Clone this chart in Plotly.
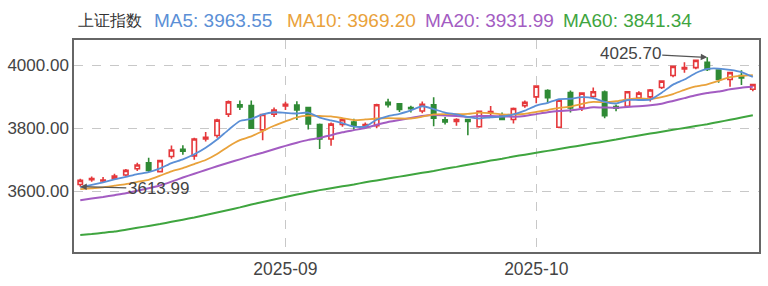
import plotly.graph_objects as go

dates = [
    "2025-08-06", "2025-08-07", "2025-08-08", "2025-08-11", "2025-08-12", "2025-08-13",
    "2025-08-14", "2025-08-15", "2025-08-18", "2025-08-19", "2025-08-20", "2025-08-21",
    "2025-08-22", "2025-08-25", "2025-08-26", "2025-08-27", "2025-08-28", "2025-08-29",
    "2025-09-01", "2025-09-02", "2025-09-03", "2025-09-04", "2025-09-05", "2025-09-08",
    "2025-09-09", "2025-09-10", "2025-09-11", "2025-09-12", "2025-09-15", "2025-09-16",
    "2025-09-17", "2025-09-18", "2025-09-19", "2025-09-22", "2025-09-23", "2025-09-24",
    "2025-09-25", "2025-09-26", "2025-09-29", "2025-09-30", "2025-10-09", "2025-10-10",
    "2025-10-13", "2025-10-14", "2025-10-15", "2025-10-16", "2025-10-17", "2025-10-20",
    "2025-10-21", "2025-10-22", "2025-10-23", "2025-10-24", "2025-10-27", "2025-10-28",
    "2025-10-29", "2025-10-30", "2025-10-31", "2025-11-03", "2025-11-04", "2025-11-05",
]

open_ = [3621, 3636, 3632, 3640, 3651, 3671, 3690, 3662, 3710, 3733,
         3712, 3766, 3777, 3845, 3875, 3872, 3795, 3845, 3871, 3874,
         3866, 3812, 3766, 3812, 3820, 3803, 3808, 3883, 3878, 3866,
         3855, 3875, 3827, 3822, 3828, 3805, 3849, 3839, 3828, 3872,
         3900, 3920, 3803, 3914, 3866, 3901, 3915, 3869, 3870, 3896,
         3900, 3930, 3968, 3989, 3993, 4010, 3985, 3955, 3968, 3924]
high = [3639, 3646, 3645, 3655, 3670, 3690, 3706, 3700, 3745, 3746,
        3770, 3788, 3830, 3888, 3888, 3888, 3846, 3866, 3884, 3886,
        3868, 3815, 3818, 3830, 3830, 3818, 3878, 3894, 3880, 3872,
        3885, 3899, 3836, 3832, 3830, 3856, 3871, 3850, 3866, 3888,
        3936, 3924, 3892, 3920, 3915, 3930, 3920, 3876, 3918, 3918,
        3925, 3953, 3999, 4010, 4017, 4025.70, 3987, 3979, 3985, 3942]
low = [3613.99, 3630, 3626, 3637, 3648, 3664, 3660, 3659, 3703, 3716,
       3700, 3758, 3770, 3836, 3858, 3798, 3762, 3836, 3858, 3826,
       3796, 3734, 3744, 3805, 3795, 3798, 3800, 3866, 3852, 3850,
       3848, 3806, 3812, 3808, 3778, 3802, 3842, 3826, 3815, 3865,
       3880, 3880, 3800, 3850, 3855, 3895, 3832, 3854, 3866, 3890,
       3885, 3925, 3962, 3977, 3988, 3982, 3945, 3932, 3938, 3918]
close = [3634, 3640, 3635, 3648, 3666, 3683, 3666, 3697, 3731, 3727,
         3766, 3771, 3826, 3884, 3868, 3800, 3844, 3858, 3876, 3858,
         3814, 3766, 3813, 3827, 3807, 3812, 3875, 3875, 3860, 3862,
         3876, 3832, 3820, 3828, 3822, 3854, 3853, 3828, 3863, 3883,
         3934, 3897, 3889, 3865, 3912, 3916, 3840, 3864, 3916, 3912,
         3922, 3950, 3997, 3993, 4016, 3987, 3955, 3977, 3960, 3939]

ma5 = [3612, 3620, 3628, 3637, 3645, 3654, 3660, 3672, 3689, 3701,
       3717, 3738, 3764, 3795, 3823, 3830, 3844, 3851, 3849, 3847,
       3850, 3834, 3825, 3816, 3805, 3805, 3827, 3839, 3846, 3857,
       3870, 3861, 3850, 3844, 3836, 3831, 3835, 3837, 3844, 3856,
       3872, 3881, 3893, 3894, 3899, 3896, 3884, 3879, 3890, 3890,
       3891, 3913, 3939, 3955, 3976, 3989, 3990, 3986, 3979, 3963.55]
ma10 = [3606, 3609, 3612, 3617, 3622, 3629, 3636, 3649, 3663, 3673,
        3686, 3699, 3718, 3742, 3762, 3774, 3791, 3808, 3822, 3835,
        3840, 3839, 3838, 3832, 3826, 3828, 3831, 3832, 3831, 3831,
        3837, 3844, 3845, 3845, 3846, 3850, 3848, 3844, 3844, 3846,
        3852, 3858, 3865, 3869, 3878, 3884, 3883, 3886, 3892, 3895,
        3893, 3899, 3909, 3922, 3933, 3940, 3951, 3963, 3967, 3969.20]
ma20 = [3571, 3576, 3581, 3587, 3593, 3601, 3609, 3618, 3630, 3643,
        3655, 3667, 3679, 3690, 3701, 3712, 3722, 3733, 3744, 3754,
        3763, 3769, 3778, 3787, 3794, 3801, 3811, 3820, 3826, 3833,
        3839, 3842, 3841, 3839, 3836, 3839, 3839, 3838, 3837, 3839,
        3845, 3851, 3855, 3857, 3862, 3867, 3866, 3865, 3868, 3870,
        3873, 3878, 3887, 3896, 3905, 3912, 3917, 3924, 3929, 3931.99]
ma60 = [3460, 3463, 3467, 3471, 3477, 3483, 3489, 3495, 3502, 3509,
        3516, 3524, 3532, 3540, 3548, 3557, 3565, 3573, 3581, 3589,
        3596, 3603, 3609, 3615, 3621, 3628, 3634, 3640, 3646, 3652,
        3658, 3664, 3671, 3677, 3684, 3690, 3697, 3703, 3710, 3716,
        3722, 3728, 3734, 3740, 3746, 3752, 3758, 3764, 3771, 3777,
        3783, 3789, 3795, 3801, 3807, 3813, 3820, 3827, 3834, 3841.34]

index_name = "上证指数"
x_tick_dates = ["2025-09-01", "2025-10-09"]
x_tick_text = ["2025-09", "2025-10"]
y_ticks = [3600, 3800, 4000]

C_UP = "#e5383b"
C_DOWN = "#2f8a35"
C_MA5 = "#5b8fd6"
C_MA10 = "#e9a23b"
C_MA20 = "#a35cc2"
C_MA60 = "#3fa53f"
FONT = "Arial, Liberation Sans, sans-serif"

fig = go.Figure()
fig.add_trace(go.Candlestick(
    x=dates, open=open_, high=high, low=low, close=close,
    increasing=dict(line=dict(color=C_UP, width=1.6), fillcolor="white"),
    decreasing=dict(line=dict(color=C_DOWN, width=1.6), fillcolor=C_DOWN),
    whiskerwidth=0, showlegend=False, hoverinfo="skip",
))
for vals, col, w in [(ma60, C_MA60, 2), (ma20, C_MA20, 2), (ma10, C_MA10, 1.8), (ma5, C_MA5, 1.8)]:
    fig.add_trace(go.Scatter(x=dates, y=vals, mode="lines",
                             line=dict(color=col, width=w, shape="spline", smoothing=0.5),
                             showlegend=False, hoverinfo="skip"))

# extreme-value annotations
hi_i = high.index(max(high))
lo_i = low.index(min(low))
fig.add_annotation(x=dates[hi_i], y=high[hi_i], text=f"{max(high):.2f}",
                   showarrow=True, arrowhead=2, arrowsize=1, arrowwidth=1.3, arrowcolor="#555",
                   ax=-77, ay=-4, font=dict(family=FONT, size=17, color="#444"))
fig.add_annotation(x=dates[lo_i], y=low[lo_i], text=f"{min(low):.2f}",
                   showarrow=True, arrowhead=2, arrowsize=1, arrowwidth=1.3, arrowcolor="#555",
                   ax=78, ay=2, font=dict(family=FONT, size=17, color="#444"))

# header legend row
header = [
    (index_name, "#333", 75, 15.5),
    (f"MA5: {ma5[-1]:.2f}", C_MA5, 151, 19),
    (f"MA10: {ma10[-1]:.2f}", C_MA10, 285, 19),
    (f"MA20: {ma20[-1]:.2f}", C_MA20, 424, 19),
    (f"MA60: {ma60[-1]:.2f}", C_MA60, 562, 19),
]
L, R, T, B = 73, 7, 40, 30
W, H = 768, 286
pw, ph = W - L - R, H - T - B
for txt, col, px, fs in header:
    fig.add_annotation(xref="paper", yref="paper", x=(px - L) / pw, y=1 + (T - 20) / ph,
                       xanchor="left", yanchor="middle", text=txt, showarrow=False,
                       font=dict(family=FONT, size=fs, color=col))

fig.update_layout(
    width=W, height=H, margin=dict(l=L, r=R, t=T, b=B),
    paper_bgcolor="white", plot_bgcolor="white",
    boxgap=0.45,
    font=dict(family=FONT, color="#444"),
    xaxis=dict(type="category", rangeslider=dict(visible=False),
               range=[-0.55, 59.54], tickmode="array", tickvals=x_tick_dates,
               ticktext=x_tick_text, tickfont=dict(size=17.5, color="#444"),
               showgrid=True, gridcolor="#c8c8c8", griddash="dash", gridwidth=1,
               showline=True, linecolor="#666", linewidth=1.5, mirror=True, ticks="",
               zeroline=False),
    yaxis=dict(range=[3406, 4081], tickmode="array", tickvals=y_ticks, tickformat=".2f",
               tickfont=dict(size=17, color="#444"),
               showgrid=True, gridcolor="#c8c8c8", griddash="dash", gridwidth=1,
               showline=True, linecolor="#666", linewidth=1.5, mirror=True, ticks="",
               zeroline=False),
)

fig.write_html("out.html")
